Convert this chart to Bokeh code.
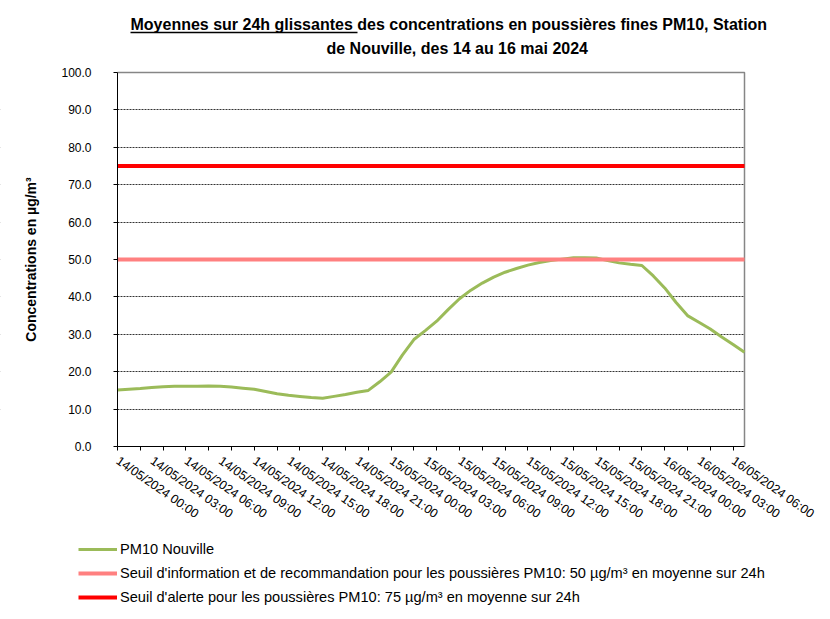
from bokeh.plotting import figure
from bokeh.models import (Range1d, FixedTicker, NumeralTickFormatter, Legend, LegendItem,
                          Title, LinearAxis, BoxAnnotation)
from bokeh.embed import file_html
from bokeh.resources import INLINE

# ---- data ----
hours = list(range(56))  # hourly steps from 14/05/2024 00:00 to 16/05/2024 07:00
pm10_nouville = [
    15.1, 15.3, 15.5, 15.8, 16.0, 16.1, 16.1, 16.1, 16.2, 16.1,
    15.9, 15.6, 15.3, 14.7, 14.1, 13.7, 13.4, 13.1, 12.9, 13.4,
    13.9, 14.5, 15.0, 17.3, 19.9, 24.5, 28.6, 31.0, 33.5, 36.6,
    39.5, 41.8, 43.7, 45.3, 46.6, 47.6, 48.5, 49.2, 49.7, 50.1,
    50.5, 50.5, 50.4, 49.7, 49.1, 48.7, 48.4, 45.6, 42.4, 38.5,
    35.0, 33.2, 31.4, 29.3, 27.3, 25.2,
]
seuil_information = 50
seuil_alerte = 75

tick_label_hours = list(range(0, 55, 3))
tick_labels = [
    "14/05/2024 00:00", "14/05/2024 03:00", "14/05/2024 06:00", "14/05/2024 09:00",
    "14/05/2024 12:00", "14/05/2024 15:00", "14/05/2024 18:00", "14/05/2024 21:00",
    "15/05/2024 00:00", "15/05/2024 03:00", "15/05/2024 06:00", "15/05/2024 09:00",
    "15/05/2024 12:00", "15/05/2024 15:00", "15/05/2024 18:00", "15/05/2024 21:00",
    "16/05/2024 00:00", "16/05/2024 03:00", "16/05/2024 06:00",
]
y_ticks = [0, 10, 20, 30, 40, 50, 60, 70, 80, 90, 100]

title_line1 = "Moyennes sur 24h glissantes des concentrations en poussières fines PM10, Station"
title_line2 = "de Nouville, des 14 au 16 mai 2024"

FONT = "Liberation Sans"
W, H = 822, 611
FL, FR, FT, FB = 117, 744, 72, 446   # plot-area edges in page pixels
FRAME_TOP = 62                       # frame starts a little above the plot area
x0, x1 = hours[0], hours[-1]
y0, y1 = y_ticks[0], y_ticks[-1]

# The frame covers the whole canvas below the title, so that the legend (which sits
# partly left of the y axis) is not clipped; axes are pinned with fixed_location.
px_per_h = (FR - FL) / (x1 - x0)
px_per_v = (FB - FT) / (y1 - y0)
x_start = x0 - FL / px_per_h
x_end = x0 + (W - FL) / px_per_h
x_range = Range1d(x_start, x_end)
y_range = Range1d(y0 - (H - FB) / px_per_v, y1 + (FT - FRAME_TOP) / px_per_v)

p = figure(width=W, height=H, x_range=x_range, y_range=y_range,
           output_backend="svg", toolbar_location=None,
           min_border_left=0, min_border_right=0, min_border_top=FRAME_TOP, min_border_bottom=0)
p.background_fill_color = "white"
p.border_fill_color = "white"
p.outline_line_color = None

p.xgrid.visible = False
p.ygrid.ticker = FixedTicker(ticks=y_ticks[1:-1])
p.ygrid.grid_line_color = "#333333"
p.ygrid.grid_line_dash = "2 1"
p.ygrid.grid_line_width = 1
# keep the grid lines inside the plot area
p.add_layout(BoxAnnotation(left=x_start - 5, right=x0, fill_color="white", fill_alpha=1,
                           line_alpha=0, level="underlay"))
p.add_layout(BoxAnnotation(left=x1, right=x_end + 5, fill_color="white", fill_alpha=1,
                           line_alpha=0, level="underlay"))

p.yaxis.fixed_location = x0
p.yaxis.bounds = (y0, y1)
p.yaxis.ticker = FixedTicker(ticks=y_ticks)
p.yaxis.formatter = NumeralTickFormatter(format="0.0")
p.yaxis.axis_line_color = "#000000"
p.yaxis.major_tick_out = 4
p.yaxis.major_tick_in = 0
p.yaxis.minor_tick_out = 0
p.yaxis.major_label_standoff = 22
p.yaxis.major_label_text_font = FONT
p.yaxis.major_label_text_font_size = "12px"
p.yaxis.major_label_text_color = "#000000"
p.yaxis.axis_label = "Concentrations en µg/m³"
p.yaxis.axis_label_text_font = FONT
p.yaxis.axis_label_text_font_size = "14px"
p.yaxis.axis_label_text_font_style = "bold"
p.yaxis.axis_label_text_color = "#000000"
p.yaxis.axis_label_standoff = 19

p.xaxis.fixed_location = y0
p.xaxis.bounds = (x0, x1)
p.xaxis.ticker = FixedTicker(ticks=tick_label_hours, minor_ticks=list(range(0, 56, 2)))
p.xaxis.major_label_overrides = {h: lab for h, lab in zip(tick_label_hours, tick_labels)}
p.xaxis.axis_line_color = "#000000"
p.xaxis.major_tick_out = 0
p.xaxis.major_tick_in = 0
p.xaxis.minor_tick_out = 4
p.xaxis.minor_tick_in = 0
p.xaxis.minor_tick_line_color = "#000000"
p.xaxis.major_label_orientation = -0.61
p.xaxis.major_label_standoff = 9
p.xaxis.major_label_text_font = FONT
p.xaxis.major_label_text_font_size = "12.5px"
p.xaxis.major_label_text_color = "#000000"

# top and right edges of the plot area
p.line([x0, x1, x1], [y1, y1, y0], line_color="#868686", line_width=1.5)

r_pm = p.line(hours, pm10_nouville, line_color="#9BBB59", line_width=3)
r_info = p.line([x0, x1], [seuil_information, seuil_information], line_color="#FF8080", line_width=4)
r_alerte = p.line([x0, x1], [seuil_alerte, seuil_alerte], line_color="#FF0000", line_width=4)

# ---- two-line title with underline (a bounded, tickless axis) ----
fs = 16
title_left = 130
under_w = 14172 * fs / 1000.0   # approx. width of "Moyennes sur 24h glissantes " in Arial bold
t2 = Title(text=title_line2, align="left", offset=326, text_font=FONT, text_font_size=f"{fs}px",
           text_font_style="bold", text_color="#000000", standoff=11)
t1 = Title(text=title_line1, align="left", offset=title_left, text_font=FONT, text_font_size=f"{fs}px",
           text_font_style="bold", text_color="#000000", standoff=0)
p.extra_x_ranges = {"px": Range1d(0, W)}
uline = LinearAxis(x_range_name="px", bounds=(title_left, title_left + under_w),
                   ticker=FixedTicker(ticks=[]), major_tick_out=0, major_tick_in=0,
                   minor_tick_out=0, minor_tick_in=0, major_label_standoff=0,
                   axis_line_color="#000000", axis_line_width=1.3)
p.add_layout(t2, "above")
p.add_layout(uline, "above")
p.add_layout(t1, "above")

# ---- legend under the x axis ----
legend = Legend(items=[
    LegendItem(label="PM10 Nouville", renderers=[r_pm]),
    LegendItem(label="Seuil d'information et de recommandation pour les poussières PM10: 50 µg/m³ en moyenne sur 24h", renderers=[r_info]),
    LegendItem(label="Seuil d'alerte pour les poussières PM10: 75 µg/m³ en moyenne sur 24h", renderers=[r_alerte]),
], location=(78, 4))
legend.border_line_alpha = 0
legend.background_fill_alpha = 0
legend.padding = 0
legend.margin = 0
legend.spacing = 4
legend.label_height = 20
legend.glyph_height = 20
legend.glyph_width = 39
legend.label_standoff = 3
legend.label_text_font = FONT
legend.label_text_font_size = "14.6px"
legend.label_text_color = "#000000"
p.add_layout(legend)

open("out.html", "w").write(file_html(p, INLINE))
